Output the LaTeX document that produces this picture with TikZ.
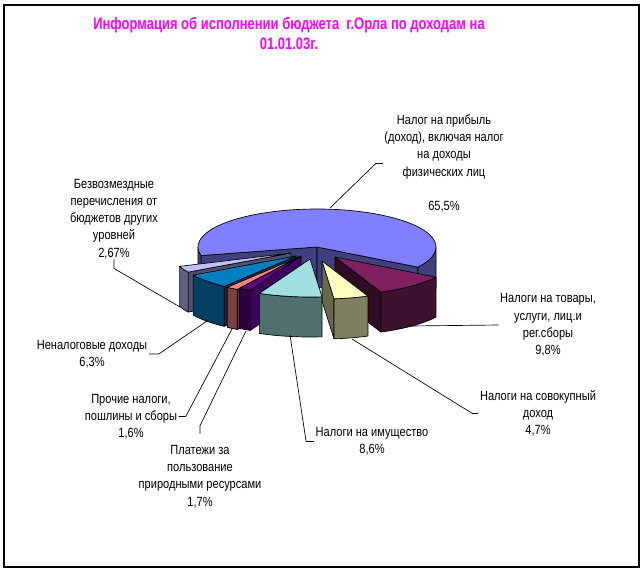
\documentclass[tikz,border=0pt]{standalone}
\usepackage{fontspec}
\setmainfont[FakeStretch=0.83]{Liberation Sans}
\newfontfamily\ttlfont[FakeStretch=0.78]{Liberation Sans}

\definecolor{ttlmag}{RGB}{255,0,255}
\definecolor{bluetop}{HTML}{8080FF}
\definecolor{blueside}{HTML}{40407F}
\definecolor{martop}{HTML}{802060}
\definecolor{marside}{HTML}{401030}
\definecolor{marcut}{HTML}{300C24}
\definecolor{yeltop}{HTML}{FFFFC0}
\definecolor{yelside}{HTML}{808060}
\definecolor{yelcut}{HTML}{68684C}
\definecolor{cyantop}{HTML}{A0E0E0}
\definecolor{cyanside}{HTML}{507070}
\definecolor{purtop}{HTML}{600080}
\definecolor{purside}{HTML}{300040}
\definecolor{purcut}{HTML}{400060}
\definecolor{saltop}{HTML}{FF8080}
\definecolor{salside}{HTML}{804040}
\definecolor{seatop}{HTML}{0080C0}
\definecolor{seaside}{HTML}{004060}
\definecolor{seacut}{HTML}{003050}
\definecolor{lavtop}{HTML}{C0C0FF}
\definecolor{lavside}{HTML}{606080}
\definecolor{lavcut}{HTML}{505070}

% faces of one slice, drawn round the apex of its scope
\newcommand\topface[3]{\filldraw[face,fill=#3] (0,0) -- (#1:119 and 38)
  arc[start angle=#1,end angle=#2,x radius=119,y radius=38] -- cycle;}
\newcommand\sideface[3]{\filldraw[face,fill=#3] (#1:119 and 38)
  arc[start angle=#1,end angle=#2,x radius=119,y radius=38] -- ++(0,40)
  arc[start angle=#2,end angle=#1,x radius=119,y radius=38] -- cycle;}
\newcommand\cutface[2]{\filldraw[face,fill=#2] (0,0) -- (#1:119 and 38)
  -- ++(0,40) -- (0,40) -- cycle;}

\begin{document}
\begin{tikzpicture}[x=0.75pt,y=-0.75pt,
  face/.style={draw=black,line width=0.5pt,line join=round},
  lbl/.style={align=center,inner sep=1pt,font=\fontsize{10}{12.9}\selectfont},
  lead/.style={draw=black,line width=0.5pt},
  ttl/.style={align=center,inner sep=0pt,text=ttlmag,
    font=\fontsize{12.5}{15}\selectfont\ttlfont\bfseries}
  ]
  \useasboundingbox (0,0) rectangle (642,572);
  \fill[white] (0,0) rectangle (642,572);
  \draw[line width=1.1pt] (4,5) rectangle (639,567);

  \node[ttl] (title) at (289,33)
    {Информация об исполнении бюджета\ \ г.Орла по доходам на\\01.01.03г.};

  % big slice at the back
  \begin{scope}[shift={(317,247)}]
    \cutface{-193}{blueside}
    \cutface{32}{blueside}
    \sideface{-193}{-180}{blueside}
    \sideface{0}{32}{blueside}
    \topface{-193}{32}{bluetop}
  \end{scope}
  % small slices, left side
  \begin{scope}[shift={(291,253)}]
    \cutface{149.8}{lavcut}
    \sideface{149.8}{159.4}{lavside}
    \topface{149.8}{159.4}{lavtop}
  \end{scope}
  \begin{scope}[shift={(296,256)}]
    \cutface{127.1}{seacut}
    \sideface{127.1}{149.8}{seaside}
    \topface{127.1}{149.8}{seatop}
  \end{scope}
  \begin{scope}[shift={(299,257)}]
    \cutface{121.3}{salside}
    \sideface{121.3}{127.1}{salside}
    \topface{121.3}{127.1}{saltop}
  \end{scope}
  \begin{scope}[shift={(301,256)}]
    \cutface{115.2}{purcut}
    \sideface{115.2}{121.3}{purside}
    \topface{115.2}{121.3}{purtop}
  \end{scope}
  % right side and front
  \begin{scope}[shift={(335,257)}]
    \cutface{67.3}{marcut}
    \sideface{32}{67.3}{marside}
    \topface{32}{67.3}{martop}
  \end{scope}
  \begin{scope}[shift={(322,261)}]
    \cutface{84.2}{yelcut}
    \sideface{67.3}{84.2}{yelside}
    \topface{67.3}{84.2}{yeltop}
  \end{scope}
  \begin{scope}[shift={(310,259)}]
    \sideface{84.2}{115.2}{cyanside}
    \topface{84.2}{115.2}{cyantop}
  \end{scope}

  % ends of the leaders on the slices
  \coordinate (c-prib) at (330,208);
  \coordinate (c-tov) at (410,326);
  \coordinate (c-sov) at (352,339);
  \coordinate (c-imu) at (290,335);
  \coordinate (c-plat) at (246,331);
  \coordinate (c-proch) at (232,329);
  \coordinate (c-nenal) at (207,321);
  \coordinate (c-bezv) at (180,307);

  \node[lbl] (prib) at (444,163.5) {Налог на прибыль\\(доход), включая налог\\на доходы\\физических лиц\\[13pt]65,5\%};
  \node[lbl] (tov) at (548,325) {Налоги на товары,\\услуги, лиц.и\\рег.сборы\\9,8\%};
  \node[lbl] (sov) at (538,413.5) {Налоги на совокупный\\доход\\4,7\%};
  \node[lbl] (imu) at (372,441.5) {Налоги на имущество\\8,6\%};
  \node[lbl] (plat) at (200,476.5) {Платежи за\\пользование\\природными ресурсами\\1,7\%};
  \node[lbl] (proch) at (131,416.5) {Прочие налоги,\\пошлины и сборы\\1,6\%};
  \node[lbl] (nenal) at (92,354) {Неналоговые доходы\\6,3\%};
  \node[lbl] (bezv) at (114,219) {Безвозмездные\\перечисления от\\бюджетов других\\уровней\\2,67\%};

  \draw[lead] (prib.west) -- ++(-7,0) -- (c-prib);
  \draw[lead] (tov.west) -- (c-tov);
  \draw[lead] (sov.west) -- ++(-6,0) -- (c-sov);
  \draw[lead] (imu.west) -- ++(-8,0) -- (c-imu);
  \draw[lead] (plat.north) ++(0,-10) -- ++(0,-8) -- (c-plat);
  \draw[lead] (proch.east) -- ++(7,0) -- (c-proch);
  \draw[lead] (nenal.east) -- ++(10,0) -- (c-nenal);
  \draw[lead] (bezv.south) ++(0,-1) -- ++(0,9) -- (c-bezv);
\end{tikzpicture}
\end{document}
